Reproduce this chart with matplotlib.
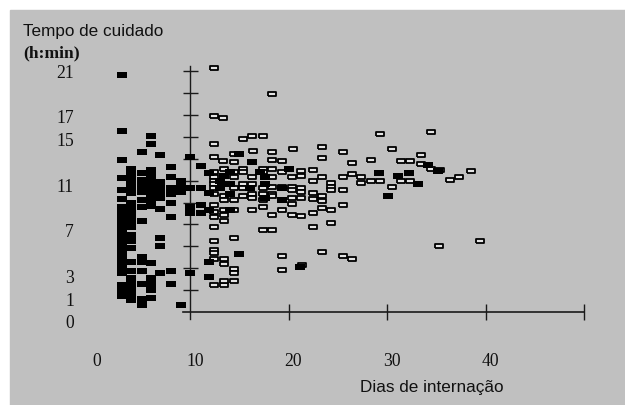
import numpy as np
import matplotlib.pyplot as plt
from matplotlib.patches import Rectangle

# short stays (filled marks), one list of hours per day column
col_days = [3.1, 4.0, 5.1, 6.0, 7.0, 8.1, 9.1, 10.0, 11.1, 11.9]
col_hours = [
    [21.6, 16.5, 13.9, 12.2, 11.1, 10.3, 9.6, 9.1, 8.7, 8.2, 7.8, 7.3, 6.8, 6.4,
     5.9, 5.5, 5.0, 4.6, 4.1, 3.6, 2.5, 2.0, 1.5],
    [13.1, 12.5, 12.0, 11.4, 10.9, 10.0, 9.4, 8.9, 8.3, 7.8, 7.0, 6.5, 5.8, 4.6,
     3.7, 3.1, 2.6, 2.0, 1.5, 1.1],
    [14.6, 12.7, 12.1, 11.5, 11.0, 10.2, 9.6, 8.3, 5.0, 4.6, 3.7, 2.6, 1.2, 0.6],
    [16.1, 15.3, 13.0, 12.4, 11.9, 11.3, 10.8, 10.2, 9.7, 4.5, 3.1, 2.6, 2.0, 1.3],
    [14.3, 11.9, 11.3, 10.8, 10.4, 9.4, 6.8, 6.0, 3.6],
    [13.2, 12.3, 11.3, 10.8, 10.0, 8.7, 3.7, 2.6],
    [12.0, 11.4, 11.0, 0.6],
    [14.2, 11.3, 9.6, 9.0, 3.6],
    [13.3, 11.3, 9.8, 9.0],
    [12.7, 10.9, 9.3, 4.6, 3.2],
]

# other filled marks
solid_days = [15.0, 16.3, 13.4, 14.1, 17.1, 20.0, 17.6, 13.0, 13.2, 14.1, 17.6,
              13.0, 16.1, 19.3, 14.1, 17.6, 19.3, 14.1, 15.0, 21.2,
              29.2, 31.1, 32.2, 33.1, 30.1, 34.1, 35.2]
solid_hours = [14.4, 13.7, 12.4, 12.8, 12.8, 13.1, 12.3, 12.0, 11.7, 11.7, 11.7,
               11.3, 11.3, 11.3, 10.8, 10.4, 10.2, 9.3, 5.3, 4.1,
               12.7, 12.4, 12.7, 11.7, 10.6, 13.4, 12.9]

# hollow marks
open_days = [
    12.4, 18.3, 12.4, 13.3, 15.4, 16.3, 17.4, 12.4, 20.4, 16.4, 18.3, 12.4, 19.3,
    18.3, 13.3, 14.5, 14.5,
    13.4, 15.4, 17.4, 18.3, 12.4, 14.5, 15.4, 17.4, 19.3, 12.4, 14.5, 16.3, 18.3,
    20.3, 12.4, 12.4, 15.4, 16.3, 18.3, 19.3, 20.3, 12.4, 14.5, 15.4, 17.4, 20.3,
    12.4, 16.3, 17.4, 18.3, 13.4, 15.4, 18.3, 16.3, 20.3, 13.4, 14.5, 17.4, 20.3,
    12.4, 17.4, 13.4, 14.5, 16.3, 19.3, 12.4, 13.4, 18.3, 20.3, 12.4, 13.4, 12.4,
    17.4, 18.3, 14.5,
    12.4, 12.4, 12.4, 19.3, 12.4, 13.4, 13.4, 14.5, 14.5, 19.3, 21.4, 14.5, 12.4,
    13.4, 13.4,
    29.3, 34.4, 23.4, 30.5, 25.5, 23.4, 28.4, 26.4, 31.4, 32.3, 33.4, 33.4, 22.5,
    21.3, 21.3, 26.4, 23.4, 25.5, 27.3, 22.5, 24.3, 27.3, 28.4, 29.3, 31.4, 32.3,
    30.5, 24.3, 24.3, 21.3, 21.3, 21.3, 22.5, 23.4, 23.4, 25.5, 22.5, 23.4, 24.3,
    25.5, 22.5, 21.3, 34.4, 35.4, 38.5, 36.4, 37.3, 35.3, 39.4, 23.4, 25.5, 26.4,
    22.5, 24.3,
]
open_hours = [
    22.3, 19.9, 17.9, 17.7, 15.8, 16.1, 16.1, 15.3, 14.9, 14.7, 14.6, 14.2, 13.8,
    13.9, 13.8, 14.4, 13.7,
    13.1, 13.1, 13.1, 13.1, 12.8, 12.8, 12.8, 12.8, 12.8, 12.3, 12.3, 12.3, 12.3,
    12.3, 12.0, 11.7, 11.7, 11.7, 11.4, 11.4, 11.4, 11.3, 11.3, 11.3, 11.3, 11.1,
    10.8, 10.8, 10.8, 10.8, 10.6, 10.6, 10.6, 10.4, 10.4, 10.2, 10.2, 10.2, 9.9,
    9.8, 9.6, 9.3, 9.3, 9.3, 9.3, 9.1, 8.9, 8.9, 8.9, 8.7, 8.3, 7.8,
    7.5, 7.5, 6.8,
    6.5, 5.7, 5.4, 5.1, 4.8, 4.8, 4.4, 3.9, 3.6, 3.8, 4.3, 2.8, 2.5,
    2.5, 2.8,
    16.3, 16.4, 15.1, 14.9, 14.6, 14.1, 13.9, 13.6, 13.8, 13.8, 14.3, 13.5, 13.0,
    12.9, 12.4, 12.6, 12.3, 12.3, 12.3, 12.0, 11.8, 11.8, 12.0, 12.0, 12.0, 12.0,
    11.4, 11.4, 11.1, 11.3, 11.0, 10.4, 10.9, 10.6, 10.1, 11.1, 10.3, 9.5, 9.3,
    9.8, 9.0, 8.8, 13.1, 13.0, 12.9, 12.1, 12.3, 6.0, 6.5, 5.5, 5.1, 4.8,
    7.8, 8.1,
]

ytick_vals = [0, 1, 3, 7, 11, 15, 17, 21]
xtick_vals = [0, 10, 20, 30, 40]

# pixel layout of the original picture
W, H = 625, 405
px_day, px_hour = 9.86, 10.95   # pixels per unit
x10_px, y0_px = 190, 312        # where day 10 / hour 0 sit

fig = plt.figure(figsize=(W / 100, H / 100), dpi=100)
fig.patch.set_facecolor("white")

ax = fig.add_axes([0, 0, 1, 1])
ax.patch.set_alpha(0)
ax.set_xlim(10 - x10_px / px_day, 10 + (W - x10_px) / px_day)
ax.set_ylim(-(H - y0_px) / px_hour, y0_px / px_hour)
ax.axis("off")
ax.add_patch(Rectangle((10 / W, 0), (W - 10) / W, (H - 10) / H,
                       transform=ax.transAxes, color="#c0c0c0", zorder=0))

# axes drawn by hand: y axis at day 10, x axis at hour 0
axc = "#1a1a1a"
ax.plot([10, 10], [-0.65, 22.5], color=axc, lw=1.0, zorder=2)
ax.plot([9.3, 50], [0, 0], color=axc, lw=1.2, zorder=2)
ax.hlines(np.arange(2, 23, 2), 9.25, 10.8, color=axc, lw=1.0, zorder=2)
ax.vlines([20, 30, 40, 50], -0.7, 0.75, color=axc, lw=1.0, zorder=2)

full = [(-1, -0.67), (1, -0.67), (1, 0.67), (-1, 0.67), (-1, -0.67)]
thin = [(-1, -0.5), (1, -0.5), (1, 0.5), (-1, 0.5), (-1, -0.5)]

ax.plot(open_days, open_hours, ls="none", marker=thin, ms=5.6,
        mfc="#e4e4e4", mec="black", mew=1.3, zorder=3)

fill_x = [d for d, hs in zip(col_days, col_hours) for _ in hs] + solid_days
fill_y = [h for hs in col_hours for h in hs] + solid_hours
ax.plot(fill_x, fill_y, ls="none", marker=full, ms=6.5, color="black", mew=0,
        zorder=4)

serif = "Liberation Serif"
sans = "Liberation Sans"
for v in ytick_vals:
    ctr = v * 1.04 + 0.1 if v else -0.9
    ax.text(10 + (74 - x10_px) / px_day, ctr - 0.55, str(v), ha="right",
            va="baseline", family=serif, size=12.7, color="#111")
for v in xtick_vals:
    ax.text(v + 0.5, -4.93, str(v), ha="center", va="baseline",
            family=serif, size=12.7, color="#111")

fig.text(23 / W, 1 - 36 / H, "Tempo de cuidado", family=sans, size=12.3,
         va="baseline", color="#111")
fig.text(23 / W, 1 - 57 / H, "(h:min)", family=serif, weight="bold", size=12.6,
         va="baseline", color="#111")
fig.text(360 / W, 1 - 392 / H, "Dias de internação", family=sans, size=12.3,
         va="baseline", color="#111")

fig.savefig("out.png", dpi=100, facecolor=fig.get_facecolor())
